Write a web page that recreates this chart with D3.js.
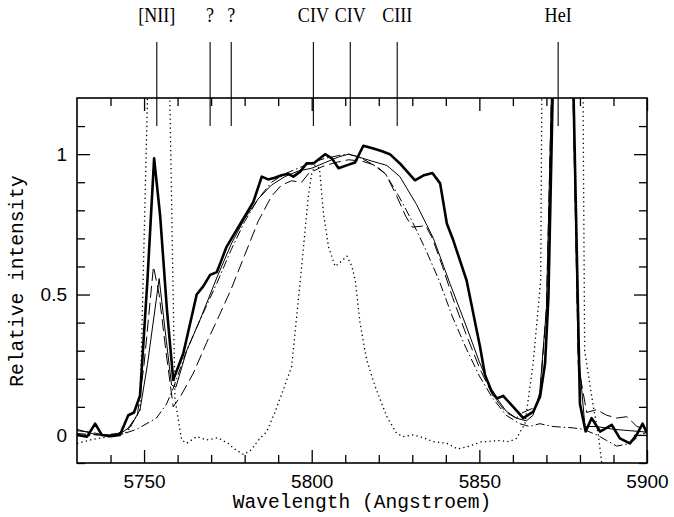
<!DOCTYPE html>
<html>
<head>
<meta charset="utf-8">
<script src="https://cdn.jsdelivr.net/npm/d3@7"></script>
<style>
  html, body { margin: 0; padding: 0; background: #fff; }
  svg { display: block; }
</style>
</head>
<body>
<div id="chart"></div>
<script>
// line identifications along the top
const lineNames = ["[NII]", "?", "?", "CIV", "CIV", "CIII", "HeI"];
const lineWaves = [5753.8, 5769.7, 5776, 5800.5, 5811.5, 5825.5, 5873.5];

// axis ticks
const xMajor = [5750, 5800, 5850, 5900];
const xMinor = [5740, 5760, 5770, 5780, 5790, 5810, 5820, 5830, 5840, 5860, 5870, 5880, 5890];
const yMajor = [0, 0.5, 1];
const yMinor = [-0.1, 0.1, 0.2, 0.3, 0.4, 0.6, 0.7, 0.8, 0.9, 1.1];

// thick solid spectrum
const thickWave = [5730, 5733, 5735.4, 5737.4, 5740, 5742.8, 5745.3, 5747, 5748.8, 5751, 5753, 5754.8, 5756.8, 5758.7,
  5761.7, 5765.7, 5767.7, 5769.7, 5771.7, 5773, 5774.6, 5778.6, 5782.6, 5785.1, 5787, 5789, 5791, 5793, 5794.5,
  5796.5, 5798.5, 5800.5, 5804, 5806, 5808, 5810.4, 5812.9, 5815.4, 5818.4, 5821, 5823.3, 5826.3, 5830.8, 5833.5,
  5836, 5838.3, 5840.3, 5842.2, 5846.2, 5850.2, 5851.7, 5853.5, 5855.2, 5857.1, 5860.1, 5863.1, 5866.1, 5868.1,
  5869.6, 5870.6, 5875, 5880, 5881.7, 5883.5, 5886, 5889.5, 5891.9, 5894.9, 5896.9, 5898.7, 5900];
const thickFlux = [0, -0.006, 0.04, 0, -0.005, 0, 0.07, 0.08, 0.14, 0.55, 0.985, 0.78, 0.45, 0.196,
  0.29, 0.5, 0.53, 0.57, 0.58, 0.62, 0.67, 0.75, 0.83, 0.92, 0.91, 0.916, 0.925, 0.93, 0.92,
  0.937, 0.967, 0.967, 1.0, 0.985, 0.95, 0.96, 0.97, 1.03, 1.02, 1.01, 1.0, 0.967, 0.907, 0.925,
  0.933, 0.896, 0.753, 0.694, 0.55, 0.314, 0.213, 0.16, 0.13, 0.139, 0.1, 0.06, 0.083, 0.136,
  0.255, 0.49, 3.0, 0.11, 0.012, 0.06, 0.012, 0.036, -0.012, -0.03, 0, 0.04, 0.006];

// thin solid spectrum
const thinWave = [5730, 5733, 5736, 5740, 5743, 5746, 5748.8, 5751, 5754.5, 5756.5, 5758.2, 5759.5, 5762.7, 5766.7,
  5771.7, 5776, 5780, 5784, 5788, 5792, 5796, 5800, 5804, 5808, 5811, 5814, 5818, 5822.4, 5826.3, 5831.3,
  5836.3, 5841.2, 5846, 5850, 5854, 5858, 5861, 5864, 5866, 5868, 5870, 5875, 5879.5, 5881.5, 5885, 5890, 5895, 5900];
const thinFlux = [0.02, 0.01, 0, 0, 0.005, 0.03, 0.09, 0.25, 0.557, 0.35, 0.178, 0.17, 0.3, 0.41,
  0.56, 0.68, 0.77, 0.84, 0.89, 0.92, 0.94, 0.95, 0.97, 0.99, 1.0, 0.99, 0.975, 0.96, 0.92, 0.82,
  0.7, 0.54, 0.39, 0.26, 0.15, 0.085, 0.06, 0.05, 0.07, 0.15, 0.45, 3.0, 0.3, 0.03, 0.03, 0.02, 0.015, 0.01];

// long dashed spectrum
const dashWave = [5730, 5734, 5738, 5742, 5745, 5748, 5750, 5752.8, 5754.5, 5756.5, 5758.7, 5761, 5764.7, 5768.7,
  5772.6, 5776, 5780, 5784, 5788, 5791, 5794, 5797, 5799, 5803, 5807, 5811, 5815, 5819, 5822, 5825, 5828, 5830,
  5834, 5836, 5839, 5842, 5846, 5850, 5854, 5858, 5861, 5863, 5866, 5868, 5870, 5875, 5879.5, 5882, 5885, 5888,
  5891, 5894, 5897, 5900];
const dashFlux = [0.015, 0.01, 0, 0.005, 0.02, 0.07, 0.25, 0.6, 0.5, 0.3, 0.1, 0.14, 0.22, 0.33,
  0.43, 0.52, 0.64, 0.76, 0.85, 0.89, 0.905, 0.9, 0.93, 0.955, 0.97, 0.98, 0.975, 0.96, 0.93, 0.86, 0.78, 0.74,
  0.745, 0.7, 0.6, 0.49, 0.36, 0.24, 0.14, 0.08, 0.06, 0.08, 0.095, 0.13, 0.45, 3.0, 0.25, 0.08, 0.09, 0.07,
  0.06, 0.065, 0.03, 0.02];

// dash-dot profile (no narrow lines)
const dashDotWave = [5730, 5736, 5742.8, 5747.8, 5753.7, 5756.7, 5758.7, 5762.7, 5766.7, 5771.7, 5776, 5780, 5784,
  5788, 5792, 5796, 5800, 5804, 5808, 5811, 5814, 5818, 5822, 5826, 5830, 5834, 5838, 5842, 5846, 5850, 5854,
  5858, 5862, 5865, 5868, 5872, 5878, 5881, 5885, 5888, 5891, 5895, 5898, 5900];
const dashDotFlux = [0.005, 0.0, 0.0, 0.02, 0.06, 0.11, 0.166, 0.3, 0.41, 0.54, 0.66, 0.76, 0.84,
  0.9, 0.93, 0.95, 0.97, 0.985, 0.995, 1.0, 0.99, 0.965, 0.93, 0.85, 0.76, 0.66, 0.55, 0.42, 0.31, 0.21, 0.13,
  0.07, 0.04, 0.03, 0.04, 0.03, 0.025, 0.02, 0.0, -0.02, -0.04, -0.03, 0.0, 0.01];

// dotted comparison spectrum
const dotWave = [5730, 5735, 5740, 5745, 5748.8, 5753, 5756, 5759.2, 5761.2, 5762.7, 5765.7, 5768.7, 5772, 5775,
  5777, 5779.7, 5782, 5784, 5786.6, 5789, 5791.5, 5794, 5795, 5796, 5797, 5799, 5800, 5801, 5802.3, 5803.5,
  5805, 5807, 5809, 5810.5, 5812, 5813, 5814.4, 5816.4, 5819, 5822.4, 5825.3, 5827.3, 5830.3, 5833.3, 5836.3,
  5840.3, 5843.5, 5847, 5850.5, 5856, 5859, 5861.1, 5863.6, 5866, 5868.3, 5870, 5879.5, 5881.4, 5884, 5885.5, 5887];
const dotFlux = [-0.03, -0.015, -0.005, 0.01, 0.09, 2.2, 2.4, 0.13, -0.018, -0.03, -0.006, -0.018, -0.01, -0.03,
  -0.05, -0.07, -0.053, -0.02, 0.012, 0.08, 0.16, 0.243, 0.36, 0.48, 0.6, 0.85, 0.93, 0.96, 0.95, 0.79,
  0.67, 0.6, 0.62, 0.637, 0.6, 0.55, 0.4, 0.267, 0.17, 0.065, 0.006, -0.006, 0, -0.01, -0.024,
  -0.03, -0.05, -0.04, -0.025, -0.02, -0.024, -0.012, 0.04, 0.25, 0.55, 4.0, 4.0, 0.3, 0.1, 0.0, -0.15];

const width = 674, height = 517;
const plot = {left: 77, right: 647, top: 98, bottom: 463};

const svg = d3.select("#chart").append("svg")
  .attr("width", width)
  .attr("height", height);

const x = d3.scaleLinear().domain([5730, 5900]).range([plot.left, plot.right]);
const y = d3.scaleLinear().domain([-0.1, 1.2]).range([plot.bottom, plot.top]);

svg.append("clipPath").attr("id", "clip")
  .append("rect")
  .attr("x", plot.left).attr("y", plot.top)
  .attr("width", plot.right - plot.left).attr("height", plot.bottom - plot.top);

const series = [
  {wave: dotWave, flux: dotFlux, width: 1.3, dash: "1.3,3.2"},
  {wave: dashDotWave, flux: dashDotFlux, width: 1, dash: "9,3,1.5,3"},
  {wave: dashWave, flux: dashFlux, width: 1, dash: "12,5"},
  {wave: thinWave, flux: thinFlux, width: 1, dash: null},
  {wave: thickWave, flux: thickFlux, width: 2.6, dash: null}
];

const line = d3.line().x(d => x(d[0])).y(d => y(d[1]));

svg.append("g").attr("clip-path", "url(#clip)")
  .selectAll("path")
  .data(series)
  .join("path")
  .attr("d", s => line(s.wave.map((w, i) => [w, s.flux[i]])))
  .attr("fill", "none")
  .attr("stroke", "#000")
  .attr("stroke-width", s => s.width)
  .attr("stroke-dasharray", s => s.dash)
  .attr("stroke-linejoin", "round");

// ticks on all four sides, pointing inward
function tickStyle(g) {
  g.select(".domain").remove();
  g.selectAll(".tick line").attr("stroke", "#000").attr("stroke-width", 1.3);
}

svg.append("g")
  .attr("transform", `translate(0,${plot.bottom})`)
  .call(d3.axisBottom(x).tickValues(xMajor).tickSizeInner(-13).tickPadding(12).tickFormat(d3.format("d")))
  .call(tickStyle)
  .call(g => g.selectAll("text")
    .attr("font-family", "'Liberation Sans', Arial, sans-serif")
    .attr("font-size", 19).attr("fill", "#000"));
svg.append("g")
  .attr("transform", `translate(0,${plot.bottom})`)
  .call(d3.axisBottom(x).tickValues(xMinor).tickSizeInner(-8).tickFormat(""))
  .call(tickStyle);
svg.append("g")
  .attr("transform", `translate(0,${plot.top})`)
  .call(d3.axisTop(x).tickValues(xMajor).tickSizeInner(-13).tickFormat(""))
  .call(tickStyle);
svg.append("g")
  .attr("transform", `translate(0,${plot.top})`)
  .call(d3.axisTop(x).tickValues(xMinor).tickSizeInner(-8).tickFormat(""))
  .call(tickStyle);

svg.append("g")
  .attr("transform", `translate(${plot.left},0)`)
  .call(d3.axisLeft(y).tickValues(yMajor).tickSizeInner(-13).tickPadding(10).tickFormat(d => String(d)))
  .call(tickStyle)
  .call(g => g.selectAll("text")
    .attr("font-family", "'Liberation Sans', Arial, sans-serif")
    .attr("font-size", 19).attr("fill", "#000"));
svg.append("g")
  .attr("transform", `translate(${plot.left},0)`)
  .call(d3.axisLeft(y).tickValues(yMinor).tickSizeInner(-8).tickFormat(""))
  .call(tickStyle);
svg.append("g")
  .attr("transform", `translate(${plot.right},0)`)
  .call(d3.axisRight(y).tickValues(yMajor).tickSizeInner(-13).tickFormat(""))
  .call(tickStyle);
svg.append("g")
  .attr("transform", `translate(${plot.right},0)`)
  .call(d3.axisRight(y).tickValues(yMinor).tickSizeInner(-8).tickFormat(""))
  .call(tickStyle);

// frame
svg.append("rect")
  .attr("x", plot.left).attr("y", plot.top)
  .attr("width", plot.right - plot.left).attr("height", plot.bottom - plot.top)
  .attr("fill", "none").attr("stroke", "#000").attr("stroke-width", 1.6);

// axis titles
svg.append("text")
  .attr("x", 362).attr("y", 508)
  .attr("text-anchor", "middle")
  .attr("font-family", "'Liberation Mono', 'DejaVu Sans Mono', monospace")
  .attr("font-size", 19.6)
  .text("Wavelength (Angstroem)");

svg.append("text")
  .attr("transform", "translate(23,281) rotate(-90)")
  .attr("text-anchor", "middle")
  .attr("font-family", "'Liberation Mono', 'DejaVu Sans Mono', monospace")
  .attr("font-size", 19.6)
  .text("Relative intensity");

// line identification marks
const ids = svg.append("g");
ids.selectAll("line")
  .data(lineWaves)
  .join("line")
  .attr("x1", d => x(d)).attr("x2", d => x(d))
  .attr("y1", 42).attr("y2", 126)
  .attr("stroke", "#000").attr("stroke-width", 1.1);
ids.selectAll("text")
  .data(lineNames)
  .join("text")
  .attr("transform", (d, i) => `translate(${x(lineWaves[i])},22) scale(0.86,1)`)
  .attr("text-anchor", "middle")
  .attr("font-family", "'Liberation Serif', 'Times New Roman', serif")
  .attr("font-size", 21)
  .text(d => d);
</script>
</body>
</html>
